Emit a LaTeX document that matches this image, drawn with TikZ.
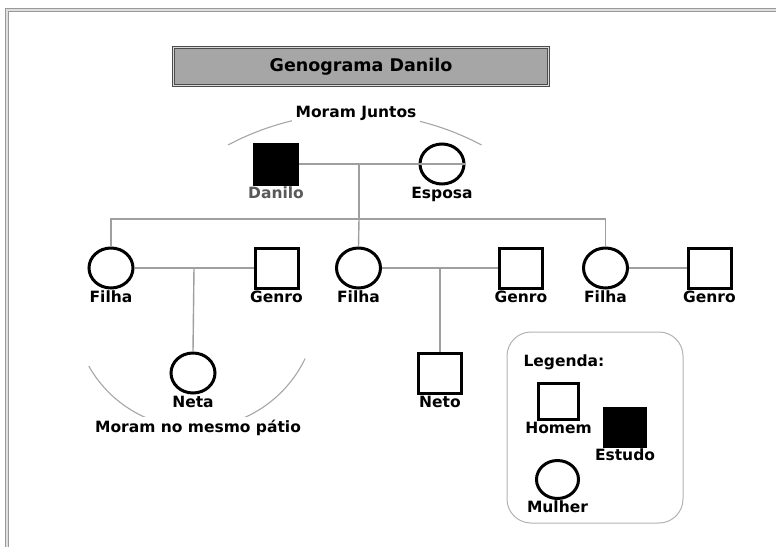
\documentclass[tikz,border=0pt]{standalone}
\usepackage{fontspec}
\setmainfont{DejaVu Sans}
\usetikzlibrary{shapes.geometric,positioning,calc}

\begin{document}
\begin{tikzpicture}[
  x=1pt,
  y=-1pt,
  font=\bfseries\fontsize{15.5}{18}\selectfont,
  text centered,
  label distance=0pt,
  every label/.style={inner sep=1pt},
  line/.style={draw=gray!75, line width=1.4pt},
  arco/.style={draw=gray!70, line width=1.1pt},
  mulher/.style={ellipse, draw, line width=3pt, minimum width=44pt, minimum height=40pt, inner sep=0},
  homem/.style={rectangle, draw, line width=3pt, minimum width=43pt, minimum height=40pt, inner sep=0},
  estudo/.style={homem, fill=black},
  titlebox/.style={draw=black!70, double=gray!30, double distance=1.4pt, line width=1pt,
    fill=gray!70, minimum width=375pt, minimum height=38pt, font=\bfseries\fontsize{17.5}{20}\selectfont}
  ]

  \useasboundingbox (0,0) rectangle (776,546);
  \clip (0,0) rectangle (776,546);
  \draw[draw=gray!80, double=gray!25, double distance=1.4pt, line width=1.1pt] (7,10) rectangle (800,570);

  \node (titulo) [titlebox] at (361,66.5) {Genograma Danilo};

  % pais
  \node (danilo) [estudo, label={[text=black!65]below:Danilo}] at (276,164) {};
  \node (esposa) [mulher, label=below:Esposa] at (442,164) {};

  % filhas e genros
  \node (filhaA) [mulher, label=below:Filha] at (111,268) {};
  \node (genroA) [homem, label=below:Genro] at (276.5,268) {};
  \node (filhaB) [mulher, label=below:Filha] at (358.5,268) {};
  \node (genroB) [homem, label=below:Genro] at (521,268) {};
  \node (filhaC) [mulher, label=below:Filha] at (605.5,268) {};
  \node (genroC) [homem, label=below:Genro] at (709.5,268) {};

  % netos
  \node (neta) [mulher, label=below:Neta] at (193,373) {};
  \node (neto) [homem, label=below:Neto] at (440,373) {};

  \coordinate (casal0) at ($(danilo)!0.5!(esposa)$);
  \coordinate (irmaos) at (359,219);
  \coordinate (casalA) at ($(filhaA.east)!0.5!(genroA.west)$);
  \coordinate (casalB) at ($(filhaB.east)!0.5!(genroB.west)$);

  \draw[line] (danilo.east) -- (esposa.east);
  \draw[line] (casal0) -- (irmaos);
  \draw[line] (filhaA.north) |- (irmaos) -| (filhaC.north);
  \draw[line] (irmaos) -- (filhaB.north);
  \draw[line] (filhaA.east) -- (genroA.west);
  \draw[line] (filhaB.east) -- (genroB.west);
  \draw[line] (filhaC.east) -- (genroC.west);
  \draw[line] (casalA) -- (neta.north);
  \draw[line] (casalB) -- (neto.north);

  % quem mora junto
  \draw[arco] (228,145) arc[start angle=-118, end angle=-62, radius=270];
  \node (juntos) [fill=white, inner xsep=4pt] at (356,113) {Moram Juntos};
  \draw[arco] (88.8,366.1) arc[start angle=150.5, end angle=25.5, radius=122];
  \node (patio) [fill=white] at (198,428) {Moram no mesmo pátio};

  % legenda
  \node (legenda) [draw=gray!60, line width=1pt, rounded corners=24pt, minimum width=176pt, minimum height=191pt] at (595,427.5) {};
  \node (legtit) [anchor=west] at (520,362) {Legenda:};
  \node (lhomem) [homem, minimum width=40pt, minimum height=36pt, label=below:Homem] at (558.5,401.5) {};
  \node (lestudo) [estudo, minimum width=41pt, minimum height=38pt, label=below:Estudo] at (625,427.5) {};
  \node (lmulher) [mulher, minimum width=42pt, minimum height=38pt, label=below:Mulher] at (557.5,479.5) {};

\end{tikzpicture}
\end{document}
